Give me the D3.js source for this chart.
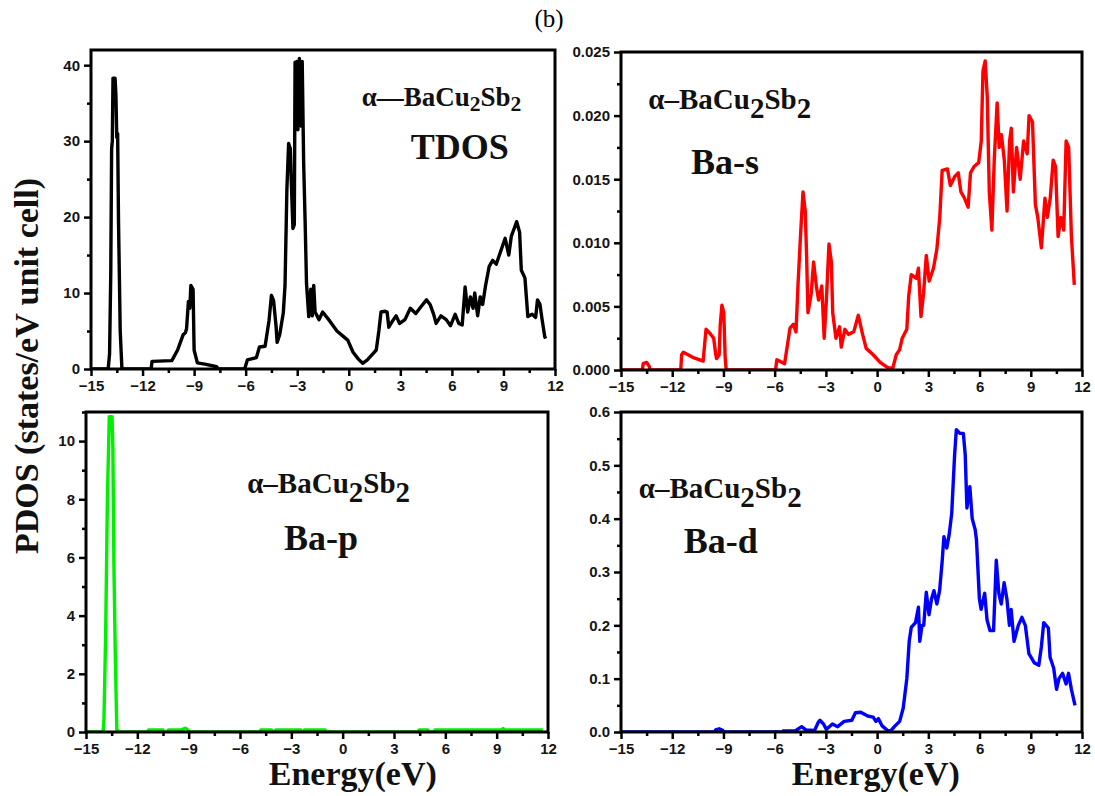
<!DOCTYPE html>
<html><head><meta charset="utf-8">
<script src="https://cdn.jsdelivr.net/npm/d3@7"></script>
<style>body{margin:0;background:#fff}</style>
</head><body><svg id="c" width="1095" height="796"></svg>
<script>
// ---- DATA (energy eV, DOS) ----
const xTicks = [-15,-12,-9,-6,-3,0,3,6,9,12];
const tdosTicks = [0,10,20,30,40];
const basTicks = [0,0.005,0.010,0.015,0.020,0.025];
const bapTicks = [0,2,4,6,8,10];
const badTicks = [0,0.1,0.2,0.3,0.4,0.5,0.6];

const tdos = [[-15,0],[-14.0,0],[-13.92,2],[-13.85,12.5],[-13.8,29],[-13.76,30],[-13.72,38.3],[-13.6,38.3],[-13.55,36],[-13.5,30.5],[-13.45,31],[-13.4,19.6],[-13.3,5],[-13.2,0],
[-11.5,0],[-11.45,1],[-10.3,1.1],[-10.2,1.5],[-9.96,2.5],[-9.8,3.5],[-9.64,4.5],[-9.5,4.8],[-9.44,5.3],[-9.33,8.9],[-9.25,8],[-9.19,11],[-9.06,10.5],[-9.0,2.5],[-8.81,0.8],[-8.3,0.6],[-7.69,0.3],[-7.6,0],
[-6.06,0],[-5.9,1.2],[-5.375,1.5],[-5.2,2.9],[-4.87,3],[-4.64,6.4],[-4.5,9.7],[-4.375,9],[-4.23,5.6],[-4.17,3.5],[-4.02,4.5],[-3.81,7.4],[-3.71,11],[-3.6,23.8],[-3.5,29.7],[-3.4,29],[-3.35,25],[-3.25,18.5],[-3.17,19],[-3.125,40.4],[-3.07,33],[-3.02,40.5],[-2.96,31.5],[-2.92,38],[-2.875,40.9],[-2.82,33],[-2.77,32],[-2.71,40.5],[-2.625,27.1],[-2.54,19.4],[-2.46,11.3],[-2.33,6.9],[-2.21,10.5],[-2.125,7],[-2.04,11],[-1.96,7.5],[-1.73,6.5],[-1.52,7.5],[-1.1,6.3],[-0.69,5],[-0.27,4.2],[-0.06,3.8],[0.25,2.2],[0.56,1.3],[0.81,0.75],[1.08,1.2],[1.4,2],[1.6,2.5],[1.75,5],[1.875,7.5],[2.125,7.6],[2.23,7.5],[2.33,5.5],[2.54,6.3],[2.75,7],[2.96,6],[3.27,6.5],[3.58,8],[3.9,7.3],[4.2,8.2],[4.52,9.1],[4.73,8.5],[4.94,7.2],[5.08,6],[5.36,7],[5.67,6.5],[5.92,5.7],[6.19,7.2],[6.4,6],[6.6,5.8],[6.77,10.8],[6.92,7.5],[7.08,9.5],[7.23,8],[7.33,10],[7.5,7],[7.65,9.5],[7.79,8.5],[7.96,11],[8.17,13.5],[8.375,14.3],[8.58,13.8],[8.9,15.9],[9.1,17.2],[9.31,15],[9.46,17.5],[9.625,18.5],[9.77,19.4],[9.94,18],[10.04,13],[10.25,12],[10.42,6.9],[10.67,7.2],[10.875,6.8],[10.98,9.1],[11.125,8.5],[11.25,6.5],[11.4,4.3],[11.45,4]];

const bas = [[-15,0],[-13.75,0],[-13.7,0.0005],[-13.5,0.0006],[-13.35,0.0003],[-13.3,0],
[-11.5,0],[-11.45,0.0012],[-11.35,0.0014],[-10.8,0.001],[-10.19,0.0007],[-10.02,0.0032],[-9.8,0.0029],[-9.57,0.0025],[-9.45,0.0012],[-9.4,0.0009],[-9.25,0.0012],[-9.19,0.0035],[-9.09,0.0051],[-8.98,0.0045],[-8.9,0.001],[-8.84,0],
[-5.95,0],[-5.87,0.0008],[-5.42,0.0005],[-5.1,0.0033],[-4.9,0.0036],[-4.75,0.003],[-4.63,0.0068],[-4.48,0.0107],[-4.34,0.014],[-4.21,0.0125],[-4.13,0.009],[-4.05,0.0045],[-3.86,0.006],[-3.72,0.0085],[-3.55,0.0065],[-3.43,0.0055],[-3.24,0.0066],[-3.1,0.0025],[-2.97,0.0055],[-2.82,0.0099],[-2.68,0.0085],[-2.6,0.0045],[-2.41,0.0025],[-2.2,0.0034],[-2.1,0.0018],[-1.89,0.0032],[-1.68,0.0028],[-1.37,0.003],[-1.1,0.0043],[-0.85,0.0028],[-0.64,0.0017],[-0.23,0.0012],[0.18,0.0006],[0.6,0.0002],[0.91,0.0001],[1.12,0.0012],[1.32,0.0016],[1.47,0.0025],[1.74,0.0032],[1.85,0.0058],[2.0,0.0075],[2.3,0.0072],[2.42,0.008],[2.57,0.0042],[2.72,0.006],[2.88,0.009],[3.05,0.007],[3.3,0.008],[3.5,0.0095],[3.67,0.012],[3.81,0.0157],[4.12,0.0158],[4.29,0.0145],[4.54,0.0152],[4.75,0.0155],[4.91,0.014],[5.12,0.0135],[5.33,0.0128],[5.47,0.0155],[5.68,0.016],[5.95,0.0163],[6.1,0.018],[6.2,0.0235],[6.33,0.0243],[6.45,0.0215],[6.57,0.014],[6.72,0.011],[6.86,0.0165],[7.03,0.021],[7.15,0.0175],[7.28,0.0185],[7.45,0.0165],[7.61,0.0125],[7.76,0.018],[7.86,0.019],[7.98,0.014],[8.17,0.0175],[8.38,0.015],[8.58,0.018],[8.79,0.017],[8.9,0.02],[9.1,0.0195],[9.27,0.013],[9.41,0.012],[9.62,0.0096],[9.83,0.0135],[9.97,0.012],[10.14,0.0135],[10.31,0.0165],[10.45,0.016],[10.6,0.0105],[10.76,0.012],[10.93,0.011],[11.07,0.018],[11.22,0.0175],[11.38,0.0105],[11.55,0.0067]];

const bap = [[-15,0],[-14.0,0],[-13.95,0.45],[-13.85,3.4],[-13.75,8],[-13.64,10.84],[-13.48,10.84],[-13.43,9.8],[-13.37,5.8],[-13.29,2.7],[-13.2,0.1],[-13.1,0],
[-11.4,0],[-11.34,0.07],[-10.5,0.07],[-10.45,0],[-10.2,0],[-10.19,0.07],[-9.4,0.08],[-9.2,0.13],[-9.05,0.07],[-8.95,0],
[-4.8,0],[-4.79,0.07],[-4.16,0.07],[-4.1,0],[-3.92,0],[-3.91,0.07],[-2.45,0.07],[-2.4,0],[-2.25,0],[-2.24,0.07],[-1.03,0.07],[-1.0,0],
[4.45,0],[4.46,0.07],[4.98,0.07],[5.0,0],[5.38,0],[5.4,0.07],[9.3,0.07],[9.37,0.12],[9.45,0.07],[11.7,0.07]];

const bad = [[-15,0],[-9.5,0],[-9.46,0.004],[-9.25,0.006],[-9.05,0.003],[-9.0,0],[-5.52,0],[-5.5,0.002],[-4.8,0.002],[-4.42,0.01],[-4.17,0.004],[-3.66,0.003],[-3.45,0.018],[-3.35,0.022],[-3.14,0.015],[-2.97,0.005],[-2.8,0.01],[-2.62,0.015],[-2.31,0.01],[-1.93,0.02],[-1.48,0.022],[-1.27,0.036],[-0.96,0.037],[-0.55,0.03],[-0.23,0.028],[-0.07,0.02],[0.08,0.025],[0.28,0.012],[0.6,0.003],[0.8,0.002],[1.01,0.01],[1.32,0.02],[1.53,0.045],[1.74,0.1],[1.88,0.17],[2.0,0.196],[2.25,0.205],[2.42,0.234],[2.5,0.17],[2.63,0.2],[2.73,0.2],[2.88,0.262],[3.04,0.22],[3.19,0.25],[3.33,0.265],[3.5,0.24],[3.66,0.265],[3.81,0.32],[3.91,0.366],[4.08,0.345],[4.22,0.37],[4.37,0.41],[4.54,0.52],[4.64,0.567],[4.85,0.56],[5.05,0.56],[5.16,0.52],[5.26,0.42],[5.43,0.46],[5.57,0.4],[5.74,0.38],[5.82,0.36],[5.99,0.25],[6.09,0.23],[6.3,0.26],[6.44,0.21],[6.61,0.19],[6.82,0.19],[6.98,0.322],[7.13,0.26],[7.27,0.24],[7.44,0.28],[7.6,0.25],[7.75,0.2],[7.85,0.23],[8.02,0.17],[8.27,0.2],[8.48,0.215],[8.68,0.2],[8.89,0.147],[9.2,0.13],[9.47,0.125],[9.62,0.16],[9.76,0.205],[10.03,0.195],[10.13,0.14],[10.34,0.12],[10.51,0.08],[10.65,0.1],[10.86,0.11],[11.07,0.09],[11.21,0.11],[11.38,0.08],[11.59,0.05]];

const names = ["TDOS","Ba-s","Ba-p","Ba-d"];

// ---- LAYOUT ----
const svg = d3.select("#c");
const SERIF = "'Liberation Serif','Times New Roman',serif";
const SANS = "'Liberation Sans',Arial,sans-serif";

const panels = [
  {data:tdos, color:"#000", L:91, R:555, T:50, B:369, ymax:42, yt:tdosTicks, fmt:d3.format("d"),
   f:{x:0.75, y:34.6, size:27, dash:"—", sub:0.8, dy:5}, n:{x:3.6, y:27.6, size:36}, name:names[0]},
  {data:bas, color:"#ff0000", L:621, R:1082, T:52, B:370, ymax:0.025, yt:basTicks, fmt:d3.format(".3f"),
   f:{x:-13.4, y:0.02055, size:29, dash:"–", sub:1, dy:9}, n:{x:-10.9, y:0.0154, size:36}, name:names[1]},
  {data:bap, color:"#00f000", L:86, R:548, T:412, B:732, ymax:11, yt:bapTicks, fmt:d3.format("d"),
   f:{x:-5.58, y:8.2, size:29, dash:"–", sub:1, dy:9}, n:{x:-3.43, y:6.24, size:36}, name:names[2]},
  {data:bad, color:"#0000ff", L:621, R:1082, T:412, B:732, ymax:0.6, yt:badTicks, fmt:d3.format(".1f"),
   f:{x:-13.96, y:0.439, size:29, dash:"–", sub:1, dy:9}, n:{x:-11.33, y:0.336, size:36}, name:names[3]}
];

panels.forEach((p,i)=>{
  const x = d3.scaleLinear().domain([-15,12]).range([p.L,p.R]);
  const y = d3.scaleLinear().domain([0,p.ymax]).range([p.B,p.T]);
  const g = svg.append("g");
  const clipId = "clip"+i;
  svg.append("clipPath").attr("id",clipId).append("rect")
    .attr("x",p.L).attr("y",p.T).attr("width",p.R-p.L).attr("height",p.B-p.T);

  g.append("path").datum(p.data)
    .attr("clip-path",`url(#${clipId})`)
    .attr("fill","none").attr("stroke",p.color).attr("stroke-width",3.4)
    .attr("stroke-linejoin","round")
    .attr("d", d3.line().x(d=>x(d[0])).y(d=>y(d[1])));

  const xa = d3.axisBottom(x).tickValues(xTicks).tickSize(7).tickPadding(4).tickFormat(d3.format("d"));
  const gx = g.append("g").attr("transform",`translate(0,${p.B})`).call(xa);
  const gxm = g.append("g").attr("transform",`translate(0,${p.B})`)
    .call(d3.axisBottom(x).tickValues(d3.range(-13.5,12,3)).tickSize(4).tickFormat(""));
  const gy = g.append("g").attr("transform",`translate(${p.L},0)`)
    .call(d3.axisLeft(y).tickValues(p.yt).tickSize(7).tickPadding(4).tickFormat(p.fmt));
  const step = p.yt[1]-p.yt[0];
  const minors = p.yt.slice(0,-1).map(v=>v+step/2);
  if (p.ymax > p.yt[p.yt.length-1] + step/2 - 1e-9) minors.push(p.yt[p.yt.length-1]+step/2);
  const gym = g.append("g").attr("transform",`translate(${p.L},0)`)
    .call(d3.axisLeft(y).tickValues(minors).tickSize(4).tickFormat(""));
  [gx,gxm,gy,gym].forEach(a=>{
    a.select(".domain").remove();
    a.selectAll("line").attr("stroke","#000").attr("stroke-width",2.5);
    a.selectAll("text").attr("font-family",SANS).attr("font-weight","bold")
      .attr("font-size",15).attr("fill","#151515");
  });
  g.append("rect").attr("x",p.L).attr("y",p.T).attr("width",p.R-p.L).attr("height",p.B-p.T)
    .attr("fill","none").attr("stroke","#000").attr("stroke-width",3);

  const t = g.append("text").attr("x",x(p.f.x)).attr("y",y(p.f.y))
    .attr("font-family",SERIF).attr("font-weight","bold").attr("font-size",p.f.size).attr("fill","#111");
  t.append("tspan").text("α"+p.f.dash+"BaCu");
  t.append("tspan").attr("dy",p.f.dy).attr("font-size",p.f.size*p.f.sub).text("2");
  t.append("tspan").attr("dy",-p.f.dy).text("Sb");
  t.append("tspan").attr("dy",p.f.dy).attr("font-size",p.f.size*p.f.sub).text("2");
  g.append("text").attr("x",x(p.n.x)).attr("y",y(p.n.y))
    .attr("font-family",SERIF).attr("font-weight","bold").attr("font-size",p.n.size).attr("fill","#111")
    .text(p.name);
});

svg.append("text").attr("x",549).attr("y",27).attr("text-anchor","middle")
  .attr("font-family",SERIF).attr("font-size",25).text("(b)");
svg.append("text").attr("transform","translate(38,366) rotate(-90)").attr("text-anchor","middle")
  .attr("font-family",SERIF).attr("font-weight","bold").attr("font-size",34).attr("fill","#111")
  .text("PDOS (states/eV unit cell)");
[[panels[2], 0.59],[panels[3], -0.08]].forEach(([p,c])=>{
  const x = d3.scaleLinear().domain([-15,12]).range([p.L,p.R]);
  svg.append("text").attr("x",x(c)).attr("y",785).attr("text-anchor","middle")
    .attr("font-family",SERIF).attr("font-weight","bold").attr("font-size",34).attr("fill","#111")
    .text("Energy(eV)");
});
</script></body></html>
